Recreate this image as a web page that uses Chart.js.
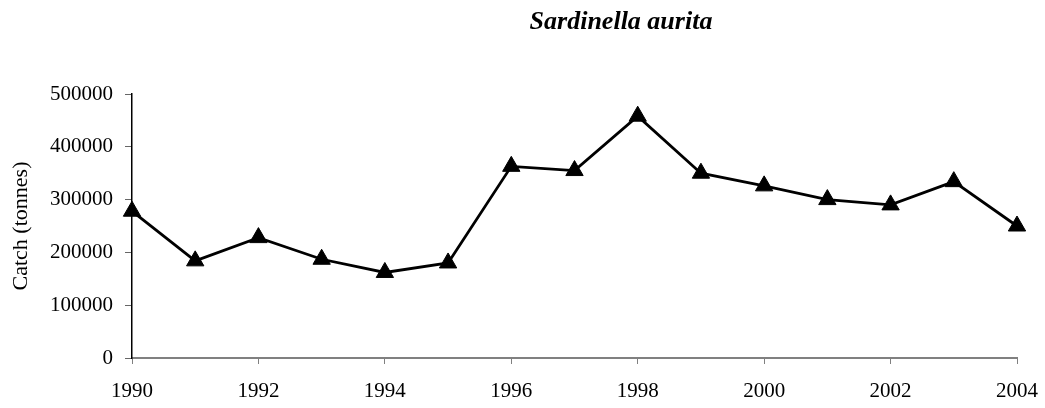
<!DOCTYPE html>
<html>
<head>
<meta charset="utf-8">
<script src="https://cdn.jsdelivr.net/npm/chart.js@4"></script>
<style>
  html, body { margin: 0; padding: 0; background: #fff; }
  #wrap { width: 1045px; height: 408px; position: relative; }
</style>
</head>
<body>
<div id="wrap"><canvas id="catchChart"></canvas></div>
<script>
// ── data
const years = [1990, 1991, 1992, 1993, 1994, 1995, 1996, 1997, 1998, 1999, 2000, 2001, 2002, 2003, 2004];
const catchTonnes = [278000, 184000, 228000, 187000, 162000, 180000, 363000, 355000, 458000, 350000, 326000, 300000, 290000, 334000, 250000];
const chartTitle = 'Sardinella aurita';
const yAxisTitle = 'Catch (tonnes)';

const SERIF = "'Liberation Serif', 'Times New Roman', serif";
Chart.defaults.font.family = SERIF;
Chart.defaults.color = '#000';

// title sits right of centre in the original, so draw it by hand
const titlePlugin = {
  id: 'speciesTitle',
  afterDraw(chart) {
    const ctx = chart.ctx;
    ctx.save();
    ctx.font = "italic bold 26px " + SERIF;
    ctx.fillStyle = '#000';
    ctx.textAlign = 'center';
    ctx.textBaseline = 'middle';
    ctx.fillText(chartTitle, 621, 22);
    ctx.restore();
  }
};

const ctx = document.getElementById('catchChart');
new Chart(ctx, {
  type: 'line',
  data: {
    datasets: [{
      label: chartTitle,
      data: years.map((y, i) => ({ x: y, y: catchTonnes[i] })),
      borderColor: '#000',
      borderWidth: 2.8,
      backgroundColor: '#000',
      pointStyle: 'triangle',
      pointRadius: 10,
      pointBorderWidth: 1,
      pointBackgroundColor: '#000',
      pointBorderColor: '#000',
      tension: 0,
      clip: false
    }]
  },
  options: {
    responsive: true,
    maintainAspectRatio: false,
    animation: false,
    layout: { padding: { left: 0, right: 28, top: 94, bottom: 0 } },
    plugins: {
      legend: { display: false },
      tooltip: { enabled: false }
    },
    scales: {
      x: {
        type: 'linear',
        min: 1990,
        max: 2004,
        afterFit: s => { s.height = 50; s.paddingLeft = 0; s.paddingRight = 0; },
        ticks: {
          stepSize: 2,
          padding: 15,
          font: { size: 21 },
          callback: v => String(v)
        },
        grid: { drawOnChartArea: false, drawTicks: true, tickLength: 6, color: '#808080', lineWidth: 1 },
        border: { color: '#808080', width: 2 }
      },
      y: {
        min: 0,
        max: 500000,
        afterFit: s => { s.width = 132; s.paddingTop = 0; s.paddingBottom = 0; },
        ticks: {
          stepSize: 100000,
          padding: 12,
          font: { size: 21 },
          callback: v => String(v)
        },
        grid: { drawOnChartArea: false, drawTicks: true, tickLength: 7, color: '#666', lineWidth: 1 },
        border: { color: '#000', width: 1.5 },
        title: {
          display: true,
          text: yAxisTitle,
          font: { size: 22 },
          padding: { top: 8, bottom: 0 }
        }
      }
    }
  },
  plugins: [titlePlugin]
});
</script>
</body>
</html>
